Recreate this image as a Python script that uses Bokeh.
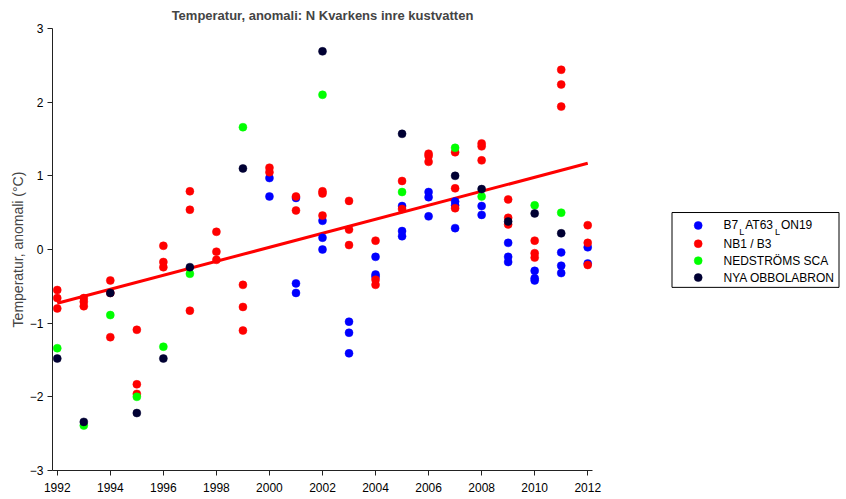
from bokeh.plotting import figure
from bokeh.models import Range1d, FixedTicker
from bokeh.layouts import row
from bokeh.core.properties import value
from bokeh.embed import file_html
from bokeh.resources import INLINE

FONT = "Liberation Sans"

# --- data ---
blue_years = [2000, 2000, 2001, 2001, 2001, 2002, 2002, 2002, 2003, 2003, 2003,
              2004, 2004, 2004, 2005, 2005, 2005, 2006, 2006, 2006, 2007, 2007, 2007,
              2008, 2008, 2009, 2009, 2009, 2010, 2010, 2010, 2011, 2011, 2011, 2012, 2012]
blue_vals = [0.97, 0.72, 0.70, -0.46, -0.59, 0.39, 0.16, 0.00, -0.98, -1.13, -1.41,
             -0.10, -0.34, -0.37, 0.59, 0.25, 0.18, 0.78, 0.71, 0.45, 0.65, 0.60, 0.29,
             0.59, 0.47, 0.09, -0.10, -0.17, -0.29, -0.39, -0.42, -0.04, -0.22, -0.32, 0.03, -0.19]

red_years = [1992, 1992, 1992, 1993, 1993, 1993, 1994, 1994, 1994, 1995, 1995, 1995,
             1996, 1996, 1996, 1997, 1997, 1997, 1998, 1998, 1998, 1999, 1999, 1999,
             2000, 2000, 2001, 2001, 2002, 2002, 2002, 2003, 2003, 2003, 2004, 2004, 2004,
             2005, 2005, 2006, 2006, 2006, 2007, 2007, 2007, 2008, 2008, 2008,
             2009, 2009, 2009, 2010, 2010, 2010, 2011, 2011, 2011, 2012, 2012, 2012]
red_vals = [-0.55, -0.66, -0.80, -0.66, -0.71, -0.77, -0.42, -0.59, -1.19, -1.09, -1.83, -1.96,
            0.05, -0.17, -0.24, 0.79, 0.54, -0.83, 0.24, -0.03, -0.14, -0.48, -0.78, -1.10,
            1.11, 1.05, 0.72, 0.53, 0.79, 0.76, 0.46, 0.66, 0.27, 0.06, 0.12, -0.41, -0.48,
            0.93, 0.55, 1.30, 1.27, 1.19, 1.32, 0.83, 0.56, 1.44, 1.40, 1.21,
            0.68, 0.43, 0.34, 0.12, -0.05, -0.11, 2.44, 2.24, 1.94, 0.33, 0.09, -0.21]

green_years = [1992, 1993, 1994, 1995, 1996, 1997, 1999, 2002, 2005, 2007, 2008, 2010, 2011]
green_vals = [-1.34, -2.39, -0.89, -2.00, -1.32, -0.33, 1.66, 2.10, 0.78, 1.38, 0.72, 0.60, 0.50]

dark_years = [1992, 1993, 1994, 1995, 1996, 1997, 1999, 2002, 2005, 2007, 2008, 2009, 2010, 2011]
dark_vals = [-1.48, -2.34, -0.59, -2.22, -1.48, -0.24, 1.10, 2.69, 1.57, 1.00, 0.82, 0.38, 0.49, 0.22]

trend_years = [1992, 2012]
trend_vals = [-0.73, 1.17]

# legend entries; the first name is shown with subscript "L"s: B7_LAT63_LON19
first_name_parts = ["B7", "L", "AT63", "L", "ON19"]
series_names = ["B7_LAT63_LON19", "NB1 / B3", "NEDSTRÖMS SCA", "NYA OBBOLABRON"]
series_colors = ["#0000ff", "#ff0000", "#00ff00", "#000033"]

x_ticks = list(range(1992, 2013, 2))
y_ticks = [-3, -2, -1, 0, 1, 2, 3]
y_tick_labels = {-3: "\u22123", -2: "\u22122", -1: "\u22121", 0: "0", 1: "1", 2: "2", 3: "3"}

H = 496

p = figure(width=620, height=H, output_backend="svg", toolbar_location=None,
           x_range=Range1d(1991.82, 2012.18), y_range=Range1d(-3, 3),
           min_border_left=52, min_border_right=28, min_border_top=28, min_border_bottom=26,
           title="Temperatur, anomali: N Kvarkens inre kustvatten")
p.title.align = "center"
p.title.text_font = FONT
p.title.text_font_size = "13px"
p.title.text_font_style = "bold"
p.title.standoff = 11
p.outline_line_color = None
p.xgrid.grid_line_color = None
p.ygrid.grid_line_color = None

for ax in (p.xaxis[0], p.yaxis[0]):
    ax.axis_line_color = "#222222"
    ax.major_tick_line_color = "#222222"
    ax.major_tick_out = 5
    ax.major_tick_in = 0
    ax.minor_tick_line_color = None
    ax.major_label_text_font = FONT
    ax.major_label_text_font_size = "12px"
    ax.major_label_text_color = "black"

p.xaxis.major_label_standoff = 7
p.yaxis.major_label_standoff = 4
p.xaxis.ticker = FixedTicker(ticks=x_ticks)
p.yaxis.ticker = FixedTicker(ticks=y_ticks)
p.yaxis.major_label_overrides = y_tick_labels
p.yaxis.axis_label = "Temperatur, anomali (\u00b0C)"
p.yaxis.axis_label_text_font = FONT
p.yaxis.axis_label_text_font_size = "14px"
p.yaxis.axis_label_text_font_style = "normal"
p.yaxis.axis_label_standoff = 1

p.line(trend_years, trend_vals, line_color="#ff0000", line_width=3)

for xs, ys, c in [(blue_years, blue_vals, series_colors[0]),
                  (red_years, red_vals, series_colors[1]),
                  (green_years, green_vals, series_colors[2]),
                  (dark_years, dark_vals, series_colors[3])]:
    p.scatter(xs, ys, size=8, fill_color=c, line_color=c, line_width=0.5)

# --- legend panel (pixel coordinates of its own canvas) ---
W2 = 220
lg = figure(width=W2, height=H, output_backend="svg", toolbar_location=None,
            x_range=Range1d(0, W2), y_range=Range1d(H, 0), min_border=0,
            x_axis_location=None, y_axis_location=None)
lg.outline_line_color = None
lg.grid.visible = False

row_y = [221, 241.5, 260.5, 279.5]
lg.quad(left=[51.5], right=[218.5], top=[206.5], bottom=[290.5],
        fill_color="white", line_color="black", line_width=1)
lg.scatter([77.7] * 4, row_y, size=8, fill_color=series_colors, line_color=series_colors,
           line_width=0.5)
lg.text([103] * 3, row_y[1:], text=series_names[1:], text_font=value(FONT),
        text_font_size="12px", text_baseline="middle", text_align="left", text_color="black")

part_x = [103, 118.7, 124.7, 154.4, 160.4]
big = [first_name_parts[0], first_name_parts[2], first_name_parts[4]]
lg.text([part_x[0], part_x[2], part_x[4]], [row_y[0]] * 3, text=big, text_font=value(FONT),
        text_font_size="12px", text_baseline="middle", text_align="left", text_color="black")
lg.text([part_x[1], part_x[3]], [228.5, 228.5], text=[first_name_parts[1], first_name_parts[3]],
        text_font=value(FONT), text_font_size="9px", text_baseline="alphabetic",
        text_align="left", text_color="black")

open("out.html", "w").write(file_html(row(p, lg), INLINE))
